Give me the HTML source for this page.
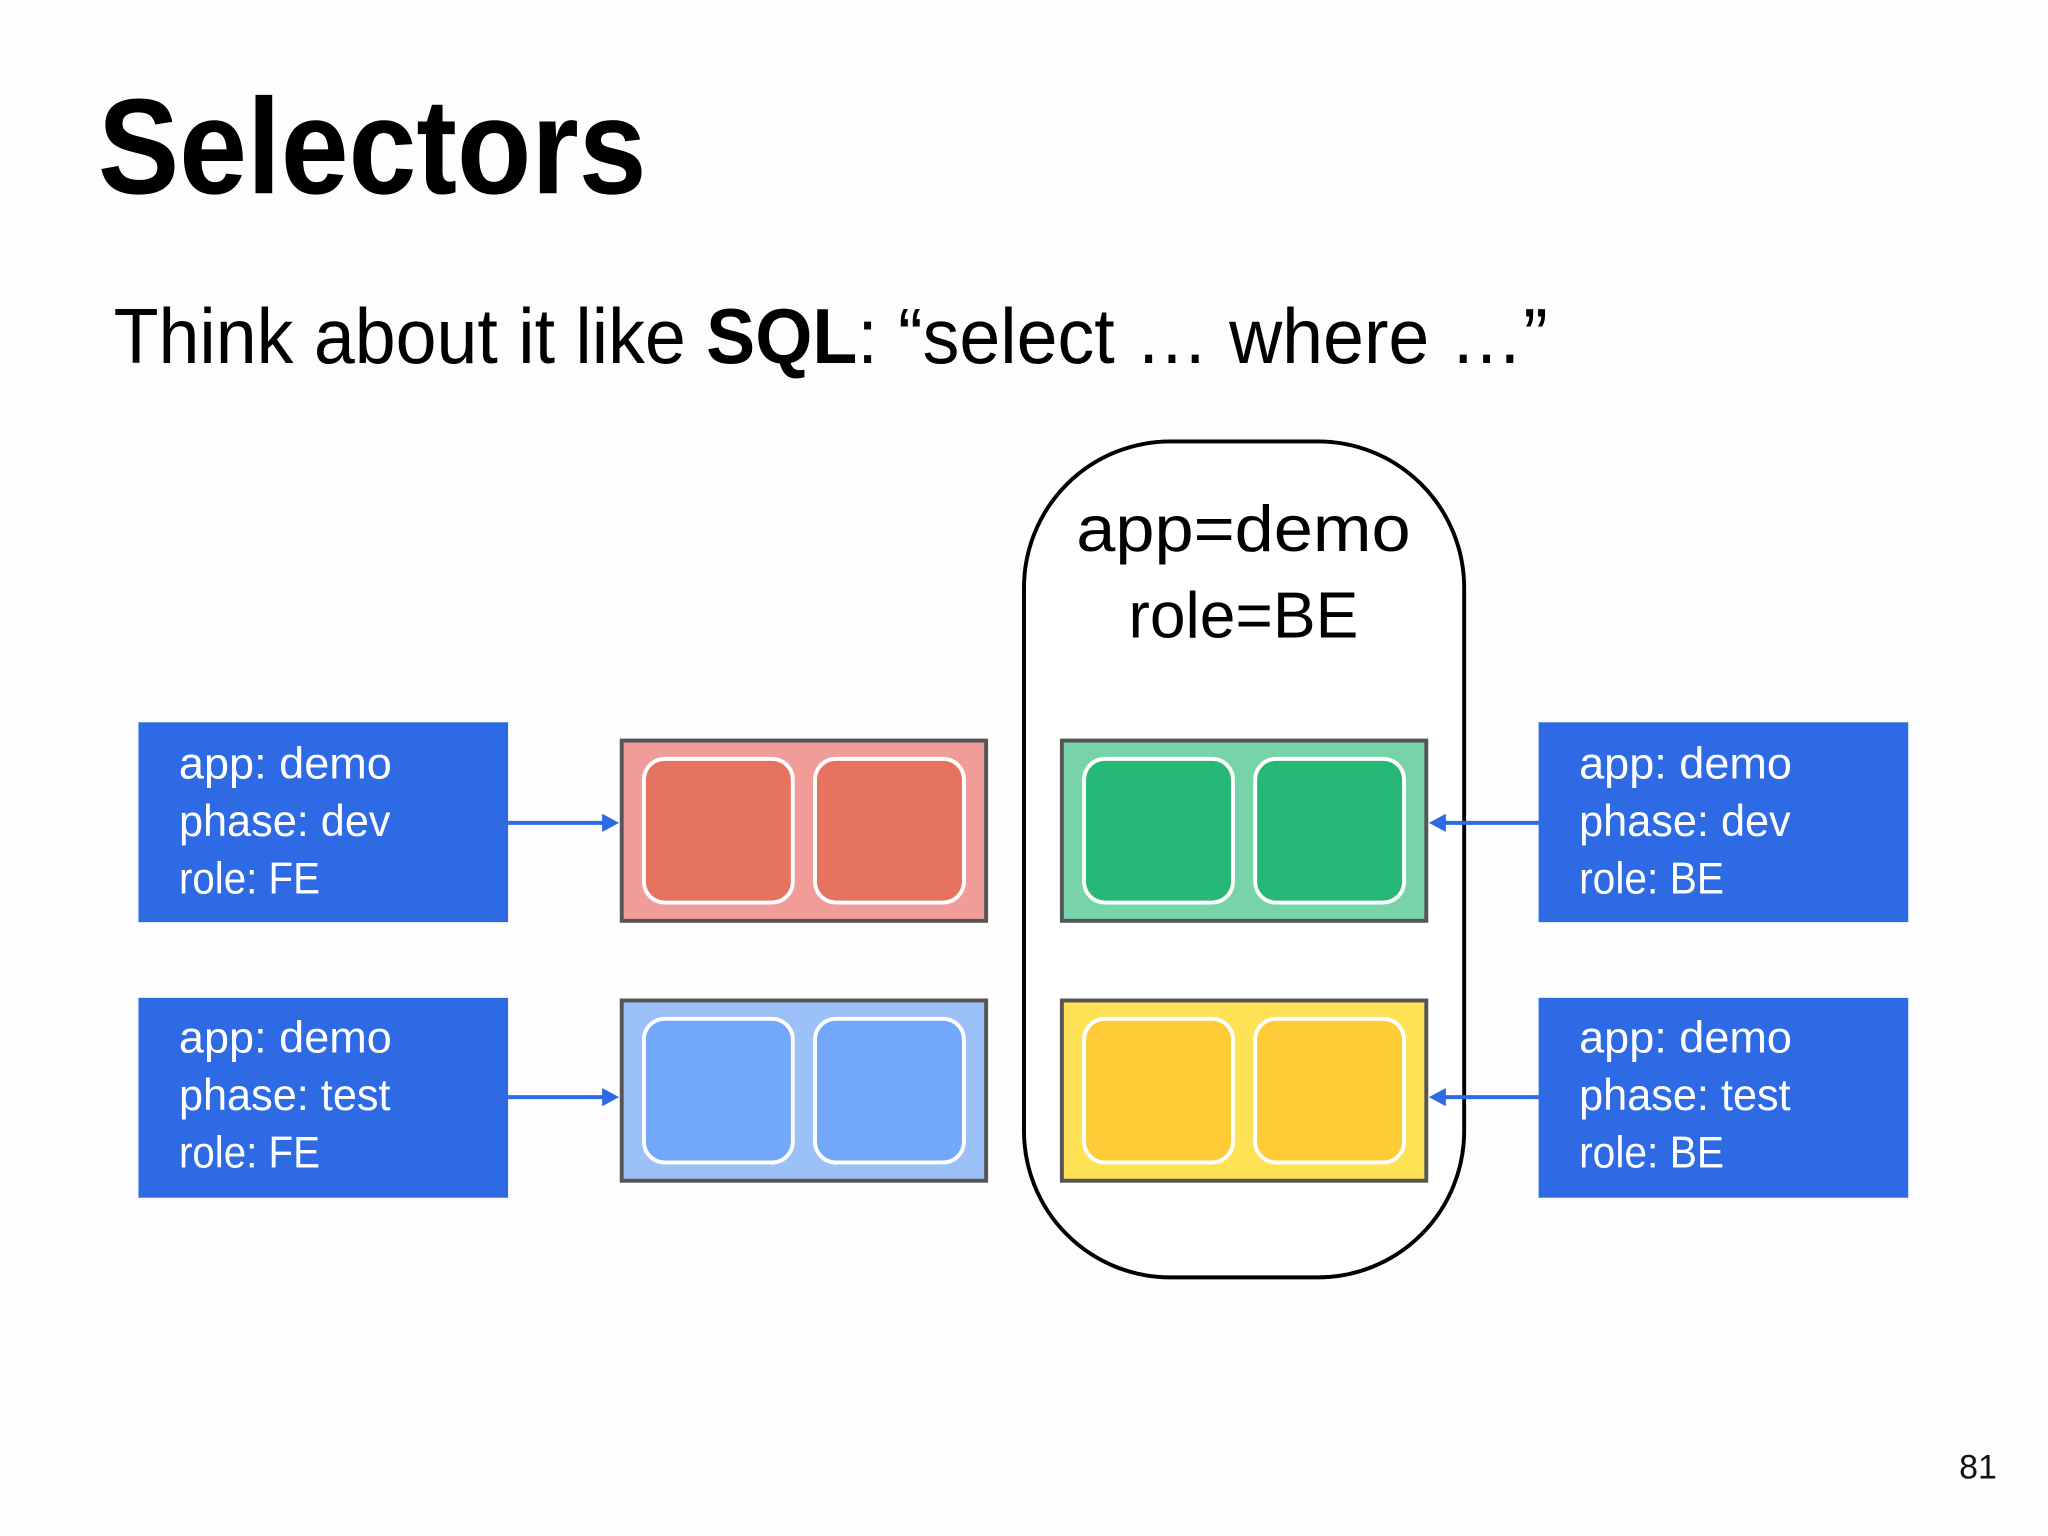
<!DOCTYPE html>
<html><head><meta charset="utf-8"><style>
html,body{margin:0;padding:0;background:#fff;overflow:hidden}
svg{display:block}
</style></head><body>
<svg width="2048" height="1536" viewBox="0 0 1568 1176" preserveAspectRatio="none" xmlns="http://www.w3.org/2000/svg" font-family="'Liberation Sans', sans-serif">
<rect width="1568" height="1176" fill="#fdfdfd"/>
<text x="75" y="148" font-size="104" font-weight="bold" textLength="420" lengthAdjust="spacingAndGlyphs">Selectors</text>
<text x="87" y="278" font-size="60" textLength="1098" lengthAdjust="spacingAndGlyphs">Think about it like <tspan font-weight="bold">SQL</tspan>: “select … where …”</text>
<rect x="784" y="338" width="337" height="640" rx="112" ry="112" fill="#fff" stroke="#000" stroke-width="3"/>
<text x="952" y="422" font-size="50" text-anchor="middle" textLength="256" lengthAdjust="spacingAndGlyphs">app=demo</text>
<text x="952" y="488" font-size="50" text-anchor="middle" textLength="176" lengthAdjust="spacingAndGlyphs">role=BE</text>
<g font-size="34" fill="#fff">
<rect x="106" y="553" width="283" height="153" fill="#2D6AE4"/>
<text x="137" y="596" textLength="163" lengthAdjust="spacingAndGlyphs">app: demo</text>
<text x="137" y="640" textLength="162" lengthAdjust="spacingAndGlyphs">phase: dev</text>
<text x="137" y="684" textLength="108" lengthAdjust="spacingAndGlyphs">role: FE</text>
<rect x="106" y="764" width="283" height="153" fill="#2D6AE4"/>
<text x="137" y="806" textLength="163" lengthAdjust="spacingAndGlyphs">app: demo</text>
<text x="137" y="850" textLength="162" lengthAdjust="spacingAndGlyphs">phase: test</text>
<text x="137" y="894" textLength="108" lengthAdjust="spacingAndGlyphs">role: FE</text>
<rect x="1178" y="553" width="283" height="153" fill="#2D6AE4"/>
<text x="1209" y="596" textLength="163" lengthAdjust="spacingAndGlyphs">app: demo</text>
<text x="1209" y="640" textLength="162" lengthAdjust="spacingAndGlyphs">phase: dev</text>
<text x="1209" y="684" textLength="111" lengthAdjust="spacingAndGlyphs">role: BE</text>
<rect x="1178" y="764" width="283" height="153" fill="#2D6AE4"/>
<text x="1209" y="806" textLength="163" lengthAdjust="spacingAndGlyphs">app: demo</text>
<text x="1209" y="850" textLength="162" lengthAdjust="spacingAndGlyphs">phase: test</text>
<text x="1209" y="894" textLength="111" lengthAdjust="spacingAndGlyphs">role: BE</text>
</g>
<g stroke="#555" stroke-width="3">
<rect x="476" y="567" width="279" height="138" fill="#F09C98"/>
<rect x="813" y="567" width="279" height="138" fill="#76D3AA"/>
<rect x="476" y="766" width="279" height="138" fill="#9CC0F8"/>
<rect x="813" y="766" width="279" height="138" fill="#FFE156"/>
</g>
<g stroke="#fff" stroke-width="3">
<rect x="493" y="581" width="114" height="110" rx="16" fill="#E6735F"/>
<rect x="624" y="581" width="114" height="110" rx="16" fill="#E6735F"/>
<rect x="830" y="581" width="114" height="110" rx="16" fill="#27B777"/>
<rect x="961" y="581" width="114" height="110" rx="16" fill="#27B777"/>
<rect x="493" y="780" width="114" height="110" rx="16" fill="#72A7F9"/>
<rect x="624" y="780" width="114" height="110" rx="16" fill="#72A7F9"/>
<rect x="830" y="780" width="114" height="110" rx="16" fill="#FFCC37"/>
<rect x="961" y="780" width="114" height="110" rx="16" fill="#FFCC37"/>
</g>
<g stroke="#2D6AE4" stroke-width="3" fill="#2D6AE4">
<line x1="389" y1="630" x2="462" y2="630"/>
<polygon points="474,630 461,623 461,637" stroke="none"/>
<line x1="389" y1="840" x2="462" y2="840"/>
<polygon points="474,840 461,833 461,847" stroke="none"/>
<line x1="1178" y1="630" x2="1106" y2="630"/>
<polygon points="1094,630 1107,623 1107,637" stroke="none"/>
<line x1="1178" y1="840" x2="1106" y2="840"/>
<polygon points="1094,840 1107,833 1107,847" stroke="none"/>
</g>
<text x="1500" y="1132" font-size="26" fill="#111">81</text>
</svg>
</body></html>
